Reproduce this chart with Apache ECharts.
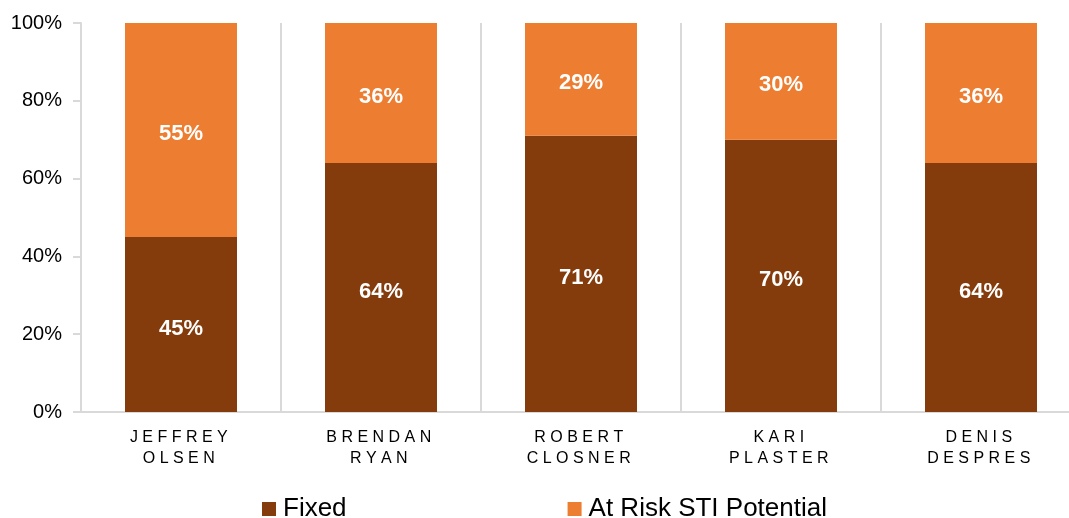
<!DOCTYPE html>
<html>
<head>
<meta charset="utf-8">
<script src="https://cdn.jsdelivr.net/npm/echarts@6/dist/echarts.min.js"></script>
<style>
html,body{margin:0;padding:0;background:#fff;}
#chart{width:1069px;height:518px;}
</style>
</head>
<body>
<div id="chart"></div>
<script>
const categories = ["JEFFREY\nOLSEN", "BRENDAN\nRYAN", "ROBERT\nCLOSNER", "KARI\nPLASTER", "DENIS\nDESPRES"];
const fixedValues = [45, 64, 71, 70, 64];
const atRiskValues = [55, 36, 29, 30, 36];
const yTicks = [0, 20, 40, 60, 80, 100];
const seriesNames = ["Fixed", "At Risk STI Potential"];

const spaced = s => s.split("\n").map(l => l.split("").join(" ") + " ").join("\n");
const FONT = "'Liberation Sans', Arial, sans-serif";

const chart = echarts.init(document.getElementById('chart'));
const labelCfg = {
  show: true,
  position: 'inside',
  offset: [0, 4],
  color: '#ffffff',
  fontFamily: FONT,
  fontWeight: 'bold',
  fontSize: 22,
  formatter: p => p.value + '%'
};
chart.setOption({
  animation: false,
  backgroundColor: '#ffffff',
  grid: { left: 81, width: 1000, top: 23, bottom: 106, containLabel: false, outerBoundsMode: 'none' },
  legend: {
    data: seriesNames,
    left: 262,
    top: 496,
    padding: 0,
    itemWidth: 14,
    itemHeight: 14,
    itemGap: 221,
    icon: 'rect',
    textStyle: { fontFamily: FONT, fontSize: 26, color: '#000', padding: [0, 0, 0, 2] }
  },
  xAxis: {
    type: 'category',
    data: categories,
    axisLine: { show: true, lineStyle: { color: '#d9d9d9', width: 2 } },
    axisTick: { show: false },
    splitLine: { show: true, lineStyle: { color: '#d9d9d9', width: 2 } },
    axisLabel: {
      formatter: v => spaced(v),
      fontFamily: FONT,
      fontSize: 16,
      lineHeight: 21,
      color: '#000',
      margin: 15
    }
  },
  yAxis: {
    type: 'value',
    min: yTicks[0],
    max: yTicks[yTicks.length - 1],
    interval: 20,
    axisLine: { show: true, lineStyle: { color: '#d9d9d9', width: 2 } },
    axisTick: { show: true, length: 8, inside: false, lineStyle: { color: '#d9d9d9', width: 2 } },
    splitLine: { show: false },
    axisLabel: {
      formatter: v => v + '%',
      fontFamily: FONT,
      fontSize: 20,
      color: '#000',
      margin: 19
    }
  },
  series: [
    {
      name: seriesNames[0], type: 'bar', stack: 'a', data: fixedValues,
      barWidth: '56%', itemStyle: { color: '#843C0C' }, label: labelCfg
    },
    {
      name: seriesNames[1], type: 'bar', stack: 'a', data: atRiskValues,
      barWidth: '56%', itemStyle: { color: '#ED7D31' }, label: labelCfg
    }
  ]
});
</script>
</body>
</html>
